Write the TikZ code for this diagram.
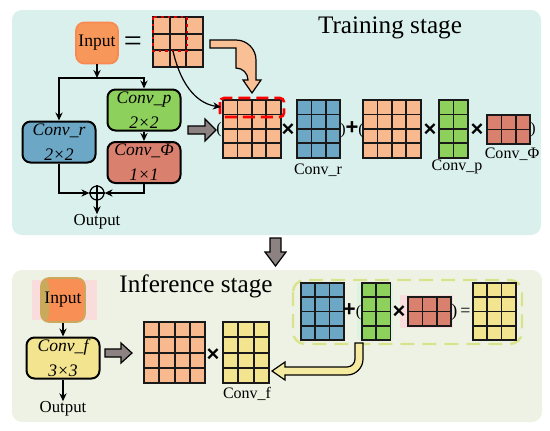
\documentclass[tikz,border=0pt]{standalone}
\usepackage{fontspec}
\setmainfont{Liberation Serif}
\setsansfont{Liberation Sans}
\usepackage{xcolor}
\usepackage{tikz}
\usetikzlibrary{positioning, arrows.meta}

\definecolor{trainbg}{HTML}{D9F0EC}
\definecolor{inferbg}{HTML}{EEF2E4}
\definecolor{cOrange}{HTML}{F9B98F}
\definecolor{cBlue}{HTML}{6CA8C6}
\definecolor{cGreen}{HTML}{8ED05C}
\definecolor{cRed}{HTML}{D9806F}
\definecolor{cYellow}{HTML}{F3E48F}
\definecolor{cInput}{HTML}{F8975A}
\definecolor{cOlive}{HTML}{C9AA5C}
\definecolor{cGray}{HTML}{8C8282}
\definecolor{cDash}{HTML}{D9E38C}
\definecolor{haloPink}{HTML}{F9DCDC}
\definecolor{haloGreen}{HTML}{DDF3E2}
\definecolor{arrOrange}{HTML}{F9BF95}
\definecolor{arrYellow}{HTML}{F4EBA0}

\begin{document}
\begin{tikzpicture}[x=0.5pt, y=-0.5pt, >={Stealth[length=4pt,width=3.6pt]},
    convbox/.style={draw, line width=1pt, rounded corners=4pt, minimum width=36.5pt,
        minimum height=20.5pt, align=center, inner sep=0.5pt,
        font=\fontsize{8.8}{12.5}\selectfont\itshape},
    inbox/.style={draw=#1, line width=0.8pt, rounded corners=4pt, minimum width=21pt,
        minimum height=20.5pt, inner sep=0pt, font=\fontsize{8.8}{10}\selectfont},
    cell/.style={draw=black!90, line width=0.9pt},
    lbl/.style={font=\fontsize{8}{9}\selectfont, inner sep=0pt},
    op/.style={font=\sffamily\bfseries\fontsize{11}{11}\selectfont, inner sep=0pt},
    paren/.style={font=\fontsize{8}{9}\selectfont, inner sep=0pt},
    title/.style={font=\fontsize{12.6}{14}\selectfont, inner sep=0pt},
    fatarrow/.style={draw, line width=0.6pt},
    link/.style={line width=0.6pt}]

    \useasboundingbox (0,0) rectangle (550,430);

    % the two stages
    \fill[trainbg, rounded corners=5pt] (12,10) rectangle (541,235);
    \fill[inferbg, rounded corners=5pt] (12,270) rectangle (542,422);
    \node[title] (ttrain) at (390,28) {Training stage};
    \node[title] (tinfer) at (196,286) {Inference stage};

    % halos and the merged region
    \fill[haloPink] (32,280) rectangle (97,320);
    \fill[haloGreen] (357,283) rectangle (393,340);
    \fill[haloPink] (400,295) rectangle (453,328);
    \draw[cDash, line width=1.2pt, dash pattern=on 7pt off 4pt, rounded corners=6pt]
        (293,280) rectangle (522,344);

    % kernels and feature maps
    \foreach \nm/\gx/\gy/\nc/\nr/\s/\col in {
        sg/153/17/3/3/16.6/cOrange,
        ga/223/100/4/4/14.4/cOrange,
        gb/297/100/3/4/14.4/cBlue,
        gc/363/100/4/4/14.4/cOrange,
        gd/439/100/2/4/14.4/cGreen,
        ge/487/115/3/2/14.4/cRed,
        gf/144/322/4/4/15.3/cOrange,
        gg/223/322/3/4/15.3/cYellow,
        gh/301/283/3/4/14.2/cBlue,
        gi/362/283/2/4/14.2/cGreen,
        gj/408/297/3/2/14.4/cRed,
        gk/473/283/3/4/14.2/cYellow}
    {
        \foreach \i in {1,...,\nc}
            \foreach \j in {1,...,\nr}
                \draw[cell, fill=\col] ({\gx+(\i-1)*\s},{\gy+(\j-1)*\s}) rectangle ++(\s,\s);
        \coordinate (\nm) at (\gx,\gy);
    }
    \draw[red!85!black, dotted, line width=1.3pt] (sg) rectangle ++(34,34);
    \draw[red, line width=1.3pt, dash pattern=on 6pt off 3pt, rounded corners=2pt]
        ([shift={(-3,-2)}]ga) rectangle ([shift={(61,17)}]ga);

    % training stage
    \node[inbox=cInput!90!red, fill=cInput] (inT) at (97,43) {Input};
    \node[font=\fontsize{16}{16}\selectfont, inner sep=0pt] (eq) at (133,44) {=};
    \node[convbox, fill=cGreen] (cp) at (144,110) {Conv\_p\\2×2};
    \node[convbox, fill=cRed] (cphi) at (144,162.5) {Conv\_Φ\\1×1};
    \node[convbox, fill=cBlue] (cr) at (59,142) {Conv\_r\\2×2};
    \node[circle, draw, line width=0.6pt, minimum size=7pt, inner sep=0pt] (sum) at (97,193) {};
    \draw[link] (sum.north) -- (sum.south) (sum.west) -- (sum.east);
    \node[lbl, font=\fontsize{8.4}{9}\selectfont] (outT) at (97,222) {Output};
    \coordinate (split) at (97,78);

    \draw[link, ->] (inT) -- (split);
    \draw[link, ->] (split) -| (cr);
    \draw[link, ->] (split) -| (cp);
    \draw[link, ->] (cp) -- (cphi);
    \draw[link, ->] (cr) |- (sum);
    \draw[link, ->] (cphi) |- (sum);
    \draw[link, ->] (sum) -- (outT);
    \coordinate (tap) at (173,51);
    \coordinate (gain) at (221,107);
    \draw[link, ->] (tap) .. controls (182,90) and (200,104) .. (gain);

    \node[paren] (p1) at (219,130) {(};
    \node[op] (x1) at (288,130) {×};
    \node[paren] (p2) at (352,130) {)\textsf{\bfseries\fontsize{11}{11}\selectfont +}(};
    \node[op] (x2) at (430,130) {×};
    \node[op] (x3) at (477,130) {×};
    \node[paren] (p3) at (533,130) {)};
    \node[lbl] (lr) at (318,170) {Conv\_r};
    \node[lbl] (lp) at (457,167) {Conv\_p};
    \node[lbl] (lphi) at (512,154) {Conv\_Φ};

    \draw[fatarrow, fill=arrOrange] (210,40) -- (236,40) arc[start angle=-90, end angle=0, radius=20]
        -- (256,80) -- (261,80) -- (252,93) -- (243,80) -- (248,80)
        arc[start angle=0, end angle=-90, radius=12] -- (236,48) -- (210,48) -- cycle;
    \draw[fatarrow, fill=cGray] (188,126) -- (205,126) -- (205,119) -- (216,130)
        -- (205,141) -- (205,134) -- (188,134) -- cycle;

    % between the stages
    \draw[fatarrow, fill=cGray] (270,238) -- (281,238) -- (281,252) -- (286,252)
        -- (275.5,266) -- (265,252) -- (270,252) -- cycle;

    % inference stage
    \node[inbox=cOlive, fill=cInput!95!red, minimum width=22pt, minimum height=22pt,
        path picture={\fill[cOlive] (path picture bounding box.south west)
            rectangle ([xshift=4pt]path picture bounding box.north west);}]
        (inI) at (63,300) {Input};
    \node[convbox, fill=cYellow] (cf) at (63,358) {Conv\_f\\3×3};
    \node[lbl, font=\fontsize{8.4}{9}\selectfont] (outI) at (63,409) {Output};
    \draw[link, ->] (inI) -- (cf);
    \draw[link, ->] (cf) -- (outI);

    \node[op] (x4) at (213,355) {×};
    \node[lbl] (lf) at (247,394) {Conv\_f};
    \node[paren] (p4) at (352,312) {\textsf{\bfseries\fontsize{11}{11}\selectfont +}(};
    \node[op] (x5) at (399,312) {×};
    \node[paren, font=\fontsize{9}{9}\selectfont] (p5) at (461,312) {)\,=};

    \draw[fatarrow, fill=cGray] (105,349) -- (121,349) -- (121,343) -- (132,353)
        -- (121,363) -- (121,357) -- (105,357) -- cycle;
    \draw[fatarrow, fill=arrYellow] (355,343) -- (363,343) -- (363,359)
        arc[start angle=0, end angle=90, radius=16] -- (285,375) -- (285,380)
        -- (272,371) -- (285,362) -- (285,367) -- (347,367)
        arc[start angle=90, end angle=0, radius=8] -- cycle;
\end{tikzpicture}
\end{document}
